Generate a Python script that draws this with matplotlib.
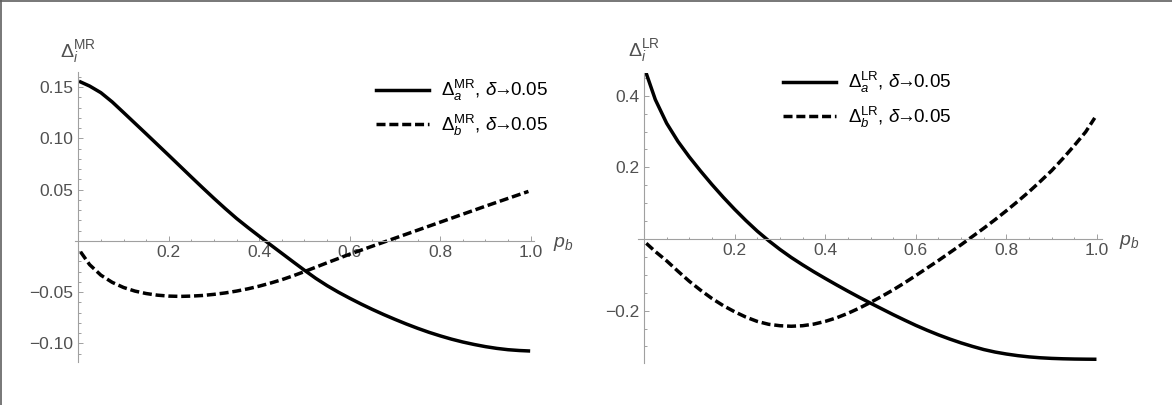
"""
Delta_i^MR and Delta_i^LR against p_b, two panels side by side
"""

import matplotlib
matplotlib.use('Agg')
import matplotlib.pyplot as plt
from matplotlib.lines import Line2D

plt.rcParams['font.family'] = ['Liberation Sans', 'DejaVu Sans']
plt.rcParams['mathtext.fontset'] = 'custom'
plt.rcParams['mathtext.rm'] = 'Liberation Sans'
plt.rcParams['mathtext.it'] = 'Liberation Sans:italic'
plt.rcParams['mathtext.bf'] = 'Liberation Sans:bold'

# ---- data ----
pb = [0.005, 0.025, 0.05, 0.075, 0.1, 0.125, 0.15, 0.175, 0.2, 0.225, 0.25,
      0.275, 0.3, 0.325, 0.35, 0.375, 0.4, 0.425, 0.45, 0.475, 0.5, 0.525,
      0.55, 0.575, 0.6, 0.625, 0.65, 0.675, 0.7, 0.725, 0.75, 0.775, 0.8,
      0.825, 0.85, 0.875, 0.9, 0.925, 0.95, 0.975, 0.995]

mr_a = [0.1550, 0.1510, 0.1445, 0.1355, 0.1252, 0.1148, 0.1044, 0.0939, 0.0834,
        0.0728, 0.0622, 0.0517, 0.0414, 0.0314, 0.0218, 0.0130, 0.0045, -0.0039,
        -0.0122, -0.0205, -0.0287, -0.0366, -0.0437, -0.0501, -0.0560, -0.0616,
        -0.0669, -0.0719, -0.0766, -0.0811, -0.0853, -0.0892, -0.0927, -0.0959,
        -0.0987, -0.1011, -0.1032, -0.1049, -0.1062, -0.1070, -0.1074]
mr_b = [-0.0107, -0.0232, -0.0335, -0.0405, -0.0455, -0.0490, -0.0514, -0.0530,
        -0.0539, -0.0542, -0.0539, -0.0533, -0.0522, -0.0508, -0.0490, -0.0468,
        -0.0442, -0.0412, -0.0379, -0.0341, -0.0300, -0.0257, -0.0214, -0.0172,
        -0.0130, -0.0091, -0.0052, -0.0013, 0.0026, 0.0065, 0.0104, 0.0143,
        0.0182, 0.0221, 0.0260, 0.0299, 0.0338, 0.0376, 0.0414, 0.0452, 0.0482]

lr_a = [0.462, 0.389, 0.323, 0.2722, 0.229, 0.1895, 0.152, 0.1165, 0.083,
        0.0515, 0.022, -0.0045, -0.029, -0.0515, -0.072, -0.0915, -0.110, -0.128,
        -0.1455, -0.1625, -0.179, -0.195, -0.211, -0.2262, -0.241, -0.2547,
        -0.2675, -0.2792, -0.290, -0.2997, -0.3085, -0.3155, -0.321, -0.3255,
        -0.329, -0.3315, -0.3332, -0.3343, -0.335, -0.3354, -0.3356]
lr_b = [-0.012, -0.035, -0.061, -0.090, -0.118, -0.143, -0.166, -0.186, -0.203,
        -0.218, -0.230, -0.238, -0.242, -0.2435, -0.242, -0.2375, -0.230, -0.220,
        -0.2075, -0.193, -0.177, -0.160, -0.142, -0.1225, -0.102, -0.081, -0.060,
        -0.038, -0.016, 0.007, 0.030, 0.054, 0.079, 0.105, 0.132, 0.161, 0.191,
        0.225, 0.261, 0.299, 0.338]

x_ticks = [0.2, 0.4, 0.6, 0.8, 1.0]
x_ticklabels = ['0.2', '0.4', '0.6', '0.8', '1.0']
mr_yticks = [-0.10, -0.05, 0.05, 0.10, 0.15]
mr_yticklabels = ['\u22120.10', '\u22120.05', '0.05', '0.10', '0.15']
lr_yticks = [-0.2, 0.2, 0.4]
lr_yticklabels = ['\u22120.2', '0.2', '0.4']

W, H = 1172, 405
GRAY = '#505050'
AXC = '#a0a0a0'
FS = 12.5
LFS = 13.5
LW = 2.5
DASH = (0, (2.6, 1.1))

fig = plt.figure(figsize=(W / 100, H / 100), dpi=100)


def px_axes(x0, x1, ytop, ybot):
    return fig.add_axes([x0 / W, 1 - ybot / H, (x1 - x0) / W, (ybot - ytop) / H])


def style_axes(ax, xlim, ylim, yticks, yticklabels, yminor):
    ax.set_xlim(*xlim)
    ax.set_ylim(*ylim)
    for s in ['top', 'right']:
        ax.spines[s].set_visible(False)
    for s in ['left', 'bottom']:
        ax.spines[s].set_position(('data', 0))
        ax.spines[s].set_color(AXC)
        ax.spines[s].set_linewidth(0.8)
    ax.set_xticks(x_ticks, x_ticklabels)
    ax.set_xticks([i * 0.05 for i in range(1, 20) if i % 4 != 0], minor=True)
    ax.set_yticks(yticks, yticklabels)
    ax.set_yticks(yminor, minor=True)
    ax.tick_params(which='both', direction='in', color=AXC, width=0.7)
    ax.tick_params(which='major', length=3.5, labelsize=FS, labelcolor=GRAY)
    ax.tick_params(which='minor', length=1.8)
    ax.tick_params(axis='x', pad=3)
    ax.tick_params(axis='y', pad=3.5)
    ax.patch.set_alpha(0)


def legend_at(ax, x_px, y_px):
    ax.legend(loc='upper left', bbox_to_anchor=(x_px / W, 1 - y_px / H),
              bbox_transform=fig.transFigure, frameon=False, fontsize=LFS,
              handlelength=2.8, handletextpad=0.65, labelspacing=0.5,
              borderpad=0, borderaxespad=0)


# ---- left panel ----
ax1 = px_axes(75.3, 534.4, 72.0, 361.7)
mr_minor = [round(-0.11 + 0.01 * i, 2) for i in range(28)]
mr_minor = [v for v in mr_minor if abs(v * 100) % 5 > 1e-6 and abs(v) > 1e-9]
style_axes(ax1, (-0.0066, 1.0082), (-0.1179, 0.1647), mr_yticks, mr_yticklabels, mr_minor)
ax1.plot(pb, mr_a, color='black', lw=LW,
         label=r'$\Delta_a^{\mathrm{MR}}$, $\delta\!\!\rightarrow\!\!$0.05')
ax1.plot(pb, mr_b, color='black', lw=LW, ls=DASH,
         label=r'$\Delta_b^{\mathrm{MR}}$, $\delta\!\!\rightarrow\!\!$0.05')
legend_at(ax1, 376, 78)

# ---- right panel ----
ax2 = px_axes(638.3, 1102.3, 73.3, 363.3)
lr_minor = [round(-0.3 + 0.05 * i, 2) for i in range(16)]
lr_minor = [v for v in lr_minor if abs(v * 100) % 20 > 1e-6 and abs(v) > 1e-9]
style_axes(ax2, (-0.0126, 1.0117), (-0.3469, 0.4625), lr_yticks, lr_yticklabels, lr_minor)
ax2.plot(pb, lr_a, color='black', lw=LW,
         label=r'$\Delta_a^{\mathrm{LR}}$, $\delta\!\!\rightarrow\!\!$0.05')
ax2.plot(pb, lr_b, color='black', lw=LW, ls=DASH,
         label=r'$\Delta_b^{\mathrm{LR}}$, $\delta\!\!\rightarrow\!\!$0.05')
legend_at(ax2, 783, 70)

# axis labels
fig.text(78 / W, 1 - 52 / H, r'$\Delta_i^{\mathrm{MR}}$', color=GRAY, fontsize=14, ha='center', va='center')
fig.text(644 / W, 1 - 51 / H, r'$\Delta_i^{\mathrm{LR}}$', color=GRAY, fontsize=14, ha='center', va='center')
fig.text(553 / W, 1 - 244 / H, r'$p_b$', color=GRAY, fontsize=14, ha='left', va='center')
fig.text(1119 / W, 1 - 242 / H, r'$p_b$', color=GRAY, fontsize=14, ha='left', va='center')

# frame lines on top and left edge
fig.add_artist(Line2D([1 / W, 1 / W], [0, 1], color='#606060', lw=1.2))
fig.add_artist(Line2D([0, 1], [1 - 1 / H, 1 - 1 / H], color='#606060', lw=1.2))

plt.savefig('out.png', dpi=100)
plt.close()
